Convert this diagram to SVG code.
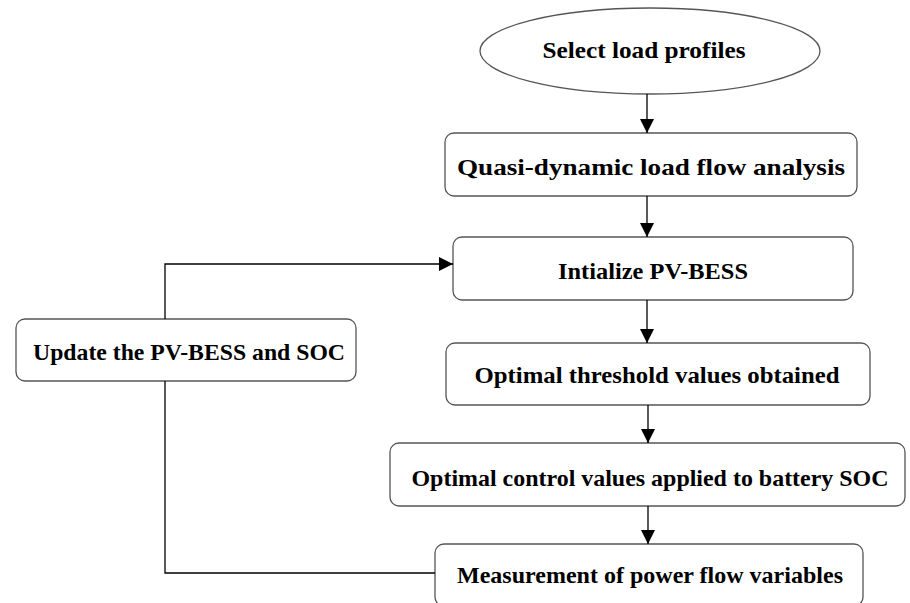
<svg xmlns="http://www.w3.org/2000/svg" width="910" height="603" viewBox="0 0 910 603">
<defs>
<marker id="ah" viewBox="0 0 10 10" refX="10" refY="5" markerWidth="14" markerHeight="14" markerUnits="userSpaceOnUse" orient="auto">
<path d="M0,0 L10,5 L0,10 z" fill="#000"/>
</marker>
<style>
.box{fill:#fff;stroke:#555;stroke-width:1.3}
.t{font-family:"Liberation Serif","Times New Roman",serif;font-weight:bold;font-size:23px;fill:#000;text-anchor:middle}
.c{fill:none;stroke:#000;stroke-width:1.3}
</style>
</defs>
<rect width="910" height="603" fill="#fff"/>
<g id="n1"><ellipse class="box" cx="650" cy="51" rx="170" ry="43"/><text class="t" x="644" y="58" textLength="203" lengthAdjust="spacingAndGlyphs">Select load profiles</text></g>
<g id="n2"><rect class="box" x="445" y="133" width="412" height="63" rx="9"/><text class="t" x="651" y="175" textLength="388" lengthAdjust="spacingAndGlyphs">Quasi-dynamic load flow analysis</text></g>
<g id="n3"><rect class="box" x="453" y="237" width="400" height="63" rx="9"/><text class="t" x="653" y="279" textLength="190" lengthAdjust="spacingAndGlyphs">Intialize PV-BESS</text></g>
<g id="n4"><rect class="box" x="446" y="343" width="424" height="62" rx="9"/><text class="t" x="657" y="383" textLength="365" lengthAdjust="spacingAndGlyphs">Optimal threshold values obtained</text></g>
<g id="n5"><rect class="box" x="390" y="443" width="515" height="63" rx="9"/><text class="t" x="650" y="486" textLength="477" lengthAdjust="spacingAndGlyphs">Optimal control values applied to battery SOC</text></g>
<g id="n6"><rect class="box" x="435" y="544" width="428" height="62" rx="9"/><text class="t" x="650" y="583" textLength="386" lengthAdjust="spacingAndGlyphs">Measurement of power flow variables</text></g>
<g id="n7"><rect class="box" x="16" y="319" width="340" height="62" rx="9"/><text class="t" x="189" y="360" textLength="312" lengthAdjust="spacingAndGlyphs">Update the PV-BESS and SOC</text></g>
<g id="connectors">
<line class="c" x1="647" y1="94" x2="647" y2="133" marker-end="url(#ah)"/>
<line class="c" x1="647" y1="196" x2="647" y2="237" marker-end="url(#ah)"/>
<line class="c" x1="647" y1="300" x2="647" y2="343" marker-end="url(#ah)"/>
<line class="c" x1="648" y1="405" x2="648" y2="443" marker-end="url(#ah)"/>
<line class="c" x1="648" y1="506" x2="648" y2="544" marker-end="url(#ah)"/>
<polyline class="c" points="435,573 165,573 165,381"/>
<polyline class="c" points="165,319 165,264 453,264" marker-end="url(#ah)"/>
</g>
</svg>
